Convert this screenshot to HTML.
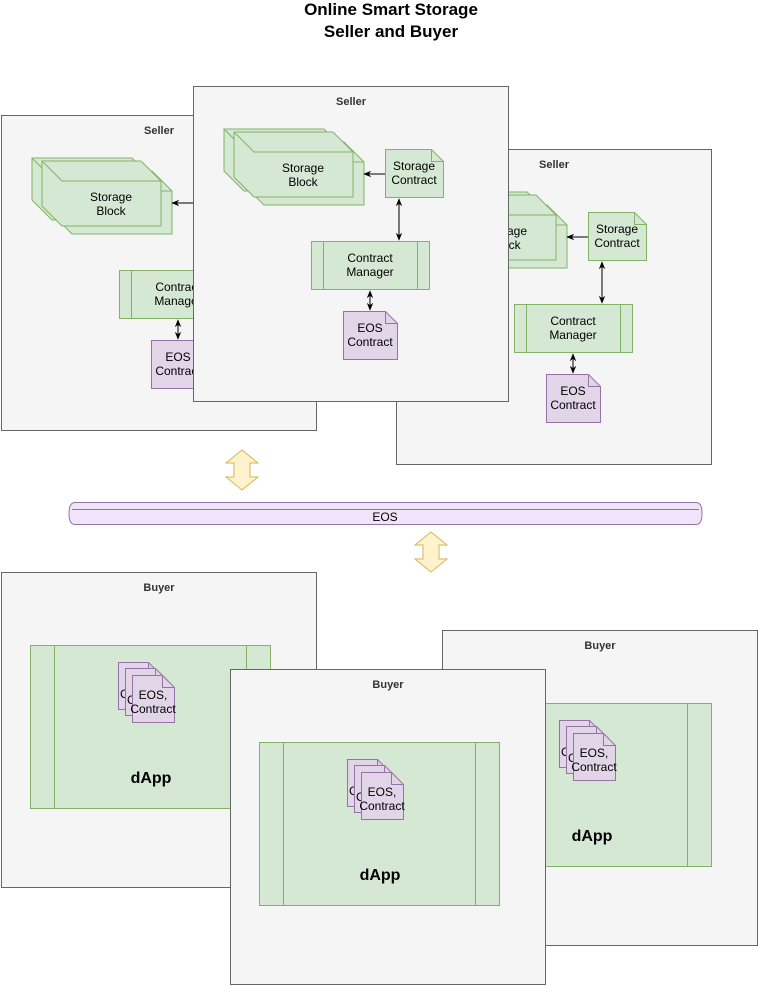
<!DOCTYPE html>
<html><head><meta charset="utf-8"><style>html,body{margin:0;padding:0;background:#fff}svg{display:block}text{font-family:"Liberation Sans",Arial,sans-serif}</style></head>
<body>
<svg width="758" height="986" viewBox="0 0 758 986" xmlns="http://www.w3.org/2000/svg">
<defs>
<marker id="ah" viewBox="0 0 10 10" refX="9" refY="5" markerWidth="8" markerHeight="8" orient="auto-start-reverse"><path d="M0,1 L10,5 L0,9 L3,5 z" fill="#000"/></marker>
<g id="seller">
<rect x="193.5" y="86.5" width="315" height="315" fill="#f5f5f5" stroke="#666"/>
<text x="351" y="105" font-size="11" font-weight="bold" fill="#333" text-anchor="middle">Seller</text>
<g fill="#d5e8d4" stroke="#82b366" stroke-width="1">
<path d="M224,129 h100 l20,20 v42 h-100 l-20,-20 z"/><path d="M224,129 l20,20 h100"/>
<path d="M244,142 h100 l20,20 v43 h-100 l-20,-20 z"/><path d="M244,142 l20,20 h100"/>
<path d="M234,132 h99 l20,20 v45 h-99 l-20,-20 z"/><path d="M234,132 l20,20 h99"/>
</g>
<text x="303" y="172" font-size="12" text-anchor="middle">Storage</text>
<text x="303" y="186" font-size="12" text-anchor="middle">Block</text>
<path d="M385.5,149.5 h46 l12,12 v36 h-58 z" fill="#d5e8d4" stroke="#82b366"/>
<path d="M431.5,149.5 v12 h12" fill="none" stroke="#82b366"/>
<text x="414" y="170" font-size="12" text-anchor="middle">Storage</text>
<text x="414" y="184" font-size="12" text-anchor="middle">Contract</text>
<line x1="385" y1="174" x2="364" y2="174" stroke="#000" marker-end="url(#ah)"/>
<line x1="399" y1="199" x2="399" y2="240" stroke="#000" marker-start="url(#ah)" marker-end="url(#ah)"/>
<rect x="311.5" y="241.5" width="118" height="48" fill="#d5e8d4" stroke="#82b366"/>
<line x1="323.5" y1="241.5" x2="323.5" y2="289.5" stroke="#82b366"/>
<line x1="417.5" y1="241.5" x2="417.5" y2="289.5" stroke="#82b366"/>
<text x="370" y="262" font-size="12" text-anchor="middle">Contract</text>
<text x="370" y="276" font-size="12" text-anchor="middle">Manager</text>
<line x1="370" y1="291" x2="370" y2="310" stroke="#000" marker-start="url(#ah)" marker-end="url(#ah)"/>
<path d="M343.5,311.5 h42 l12,12 v36 h-54 z" fill="#e1d5e7" stroke="#9673a6"/>
<path d="M385.5,311.5 v12 h12" fill="none" stroke="#9673a6"/>
<text x="370" y="332" font-size="12" text-anchor="middle">EOS</text>
<text x="370" y="346" font-size="12" text-anchor="middle">Contract</text>
</g>
<g id="note">
<path d="M0.5,0.5 h30 l12,12 v35 h-42 z" fill="#e1d5e7" stroke="#9673a6"/>
<path d="M30.5,0.5 v12 h12" fill="none" stroke="#9673a6"/>
</g>
<g id="buyer">
<rect x="230.5" y="669.5" width="315" height="315" fill="#f5f5f5" stroke="#666"/>
<text x="388" y="688" font-size="11" font-weight="bold" fill="#333" text-anchor="middle">Buyer</text>
<rect x="259.5" y="742.5" width="240" height="163" fill="#d5e8d4" stroke="#82b366"/>
<line x1="283.5" y1="742.5" x2="283.5" y2="905.5" stroke="#82b366"/>
<line x1="475.5" y1="742.5" x2="475.5" y2="905.5" stroke="#82b366"/>
<text x="380" y="880" font-size="16" font-weight="bold" text-anchor="middle">dApp</text>
<use href="#note" x="347" y="759"/>
<text x="349" y="795" font-size="12">C</text>
<text x="370" y="782" font-size="12">S</text>
<use href="#note" x="354" y="765"/>
<text x="356" y="801" font-size="12">C</text>
<text x="377" y="789" font-size="12">S</text>
<use href="#note" x="361" y="772"/>
<text x="382" y="796" font-size="12" text-anchor="middle">EOS,</text>
<text x="382" y="810" font-size="12" text-anchor="middle">Contract</text>
</g>
</defs>
<text x="391" y="15" font-size="17" font-weight="bold" text-anchor="middle">Online Smart Storage</text>
<text x="391" y="37" font-size="17" font-weight="bold" text-anchor="middle">Seller and Buyer</text>
<use href="#seller" x="-192" y="29"/>
<use href="#seller" x="203" y="63"/>
<use href="#seller"/>
<g fill="#fff2cc" stroke="#d6b656">
<path d="M242,450 l16,13 h-8 v14 h8 l-16,13 l-16,-13 h8 v-14 h-8 z"/>
<path d="M431,532 l16,13 h-8 v14 h8 l-16,13 l-16,-13 h8 v-14 h-8 z"/>
</g>
<path d="M75,502.5 H696 Q702,502.5 702,513.5 Q702,524.5 696,524.5 H75 Q69,524.5 69,513.5 Q69,502.5 75,502.5 z" fill="#f1e4f8" stroke="#9673a6"/>
<path d="M72,509.5 H699" stroke="#9673a6" fill="none"/>
<text x="385" y="521" font-size="12" text-anchor="middle">EOS</text>
<use href="#buyer" x="-229" y="-97"/>
<use href="#buyer" x="212" y="-39"/>
<use href="#buyer"/>
</svg>
</body></html>
